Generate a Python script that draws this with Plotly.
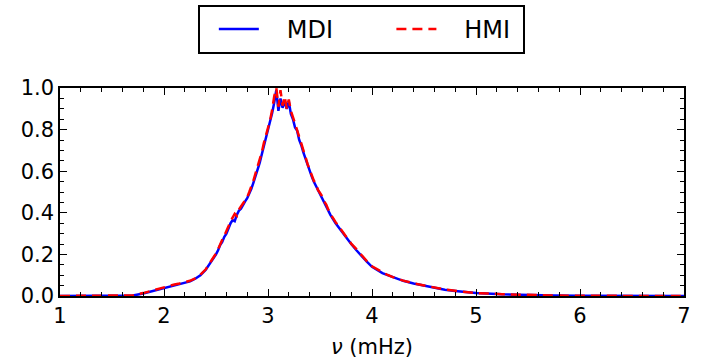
import plotly.graph_objects as go

# frequency grid (mHz)
freq = [1.0, 1.2, 1.4, 1.6, 1.7, 1.8, 1.9, 2.0, 2.05, 2.1, 2.15, 2.2, 2.25, 2.3, 2.35, 2.4, 2.45, 2.5,
        2.52, 2.54, 2.56, 2.58, 2.60, 2.62, 2.64, 2.66, 2.68, 2.70, 2.72, 2.74, 2.76, 2.78, 2.80,
        2.82, 2.84, 2.86, 2.88, 2.90, 2.92, 2.94, 2.96, 2.98, 3.00, 3.02, 3.04, 3.06, 3.08, 3.10,
        3.12, 3.14, 3.16, 3.18, 3.20, 3.22, 3.24, 3.26, 3.28, 3.30, 3.32, 3.34, 3.36, 3.38, 3.40,
        3.42, 3.44, 3.46, 3.48, 3.50, 3.52, 3.54, 3.56, 3.58, 3.60, 3.65, 3.70, 3.75, 3.80, 3.85,
        3.90, 3.95, 4.00, 4.05, 4.10, 4.15, 4.20, 4.3, 4.4, 4.5, 4.6, 4.7, 4.8, 4.9, 5.0, 5.25,
        5.5, 5.75, 6.0, 6.25, 6.5, 6.75, 7.0]

mdi = [0, 0, 0, 0, 0.002, 0.012, 0.025, 0.040, 0.046, 0.052, 0.058, 0.063, 0.070, 0.083, 0.100, 0.125, 0.160, 0.200,
       0.220, 0.245, 0.260, 0.285, 0.300, 0.330, 0.350, 0.365, 0.360, 0.390, 0.410, 0.420, 0.440, 0.455, 0.470,
       0.490, 0.515, 0.545, 0.575, 0.610, 0.640, 0.680, 0.720, 0.760, 0.800, 0.830, 0.880, 0.930, 0.990, 0.890,
       0.950, 0.905, 0.935, 0.900, 0.935, 0.875, 0.850, 0.810, 0.795, 0.750, 0.725, 0.690, 0.660, 0.625, 0.600,
       0.575, 0.550, 0.530, 0.505, 0.490, 0.470, 0.450, 0.430, 0.410, 0.390, 0.350, 0.315, 0.280, 0.250, 0.220,
       0.190, 0.165, 0.140, 0.125, 0.110, 0.100, 0.090, 0.073, 0.060, 0.049, 0.038, 0.030, 0.024, 0.019, 0.014, 0.008,
       0.004, 0.002, 0.001, 0, 0, 0, 0]

hmi = [0, 0, 0, 0, 0.003, 0.014, 0.028, 0.043, 0.050, 0.055, 0.060, 0.066, 0.073, 0.085, 0.102, 0.127, 0.163, 0.205,
       0.225, 0.250, 0.270, 0.290, 0.310, 0.335, 0.360, 0.375, 0.395, 0.385, 0.415, 0.430, 0.445, 0.465, 0.475,
       0.500, 0.525, 0.555, 0.590, 0.620, 0.655, 0.690, 0.735, 0.770, 0.815, 0.845, 0.895, 0.960, 1.000, 0.910,
       0.990, 0.915, 0.960, 0.900, 0.945, 0.890, 0.860, 0.830, 0.800, 0.765, 0.735, 0.700, 0.670, 0.635, 0.610,
       0.585, 0.555, 0.540, 0.510, 0.495, 0.480, 0.455, 0.440, 0.415, 0.395, 0.355, 0.320, 0.285, 0.252, 0.225,
       0.195, 0.168, 0.143, 0.128, 0.112, 0.101, 0.091, 0.074, 0.061, 0.050, 0.039, 0.031, 0.025, 0.019, 0.014, 0.009,
       0.005, 0.002, 0.001, 0, 0, 0, 0]

x_ticks = [1, 2, 3, 4, 5, 6, 7]
y_ticks = [0.0, 0.2, 0.4, 0.6, 0.8, 1.0]

NB = "\u00a0"

fig = go.Figure()
fig.add_trace(go.Scatter(x=freq, y=mdi, mode="lines", name=NB * 3 + "MDI" + NB * 7,
                         line=dict(color="#0000ff", width=2.5)))
fig.add_trace(go.Scatter(x=freq, y=hmi, mode="lines", name=NB * 3 + "HMI" + NB,
                         line=dict(color="#ff0000", width=2.5, dash="10px,6px")))

axis_common = dict(
    showline=True, linecolor="black", linewidth=1.5, mirror="allticks",
    ticks="inside", ticklen=7, tickwidth=1, tickcolor="black",
    showgrid=False, zeroline=False, automargin=False,
    tickfont=dict(family="DejaVu Sans", size=21, color="black"),
)

fig.update_xaxes(range=[1, 7], tickvals=x_ticks, ticktext=[str(v) for v in x_ticks],
                 minor=dict(ticks="inside", ticklen=4, dtick=0.2, tick0=1, tickcolor="black", showgrid=False),
                 title=dict(text="<i>ν</i> (mHz)", font=dict(family="DejaVu Sans", size=21, color="black"),
                            standoff=12),
                 **axis_common)
fig.update_yaxes(range=[0, 1], tickvals=y_ticks, ticktext=[f"{v:.1f}" for v in y_ticks],
                 minor=dict(ticks="inside", ticklen=4, dtick=0.05, tick0=0, tickcolor="black", showgrid=False),
                 **axis_common)

fig.update_layout(
    width=704, height=359,
    margin=dict(l=60, r=20, t=88, b=63),
    paper_bgcolor="white", plot_bgcolor="white",
    showlegend=True,
    legend=dict(orientation="h", x=198 / 704, xanchor="left", xref="container",
                y=1 - 5 / 359, yref="container", yanchor="top",
                bordercolor="black", borderwidth=2, bgcolor="white",
                font=dict(family="DejaVu Sans", size=24, color="black"),
                title=dict(text=NB, side="left", font=dict(family="DejaVu Sans", size=12)),
                itemwidth=40),
)

fig.write_html("out.html")
